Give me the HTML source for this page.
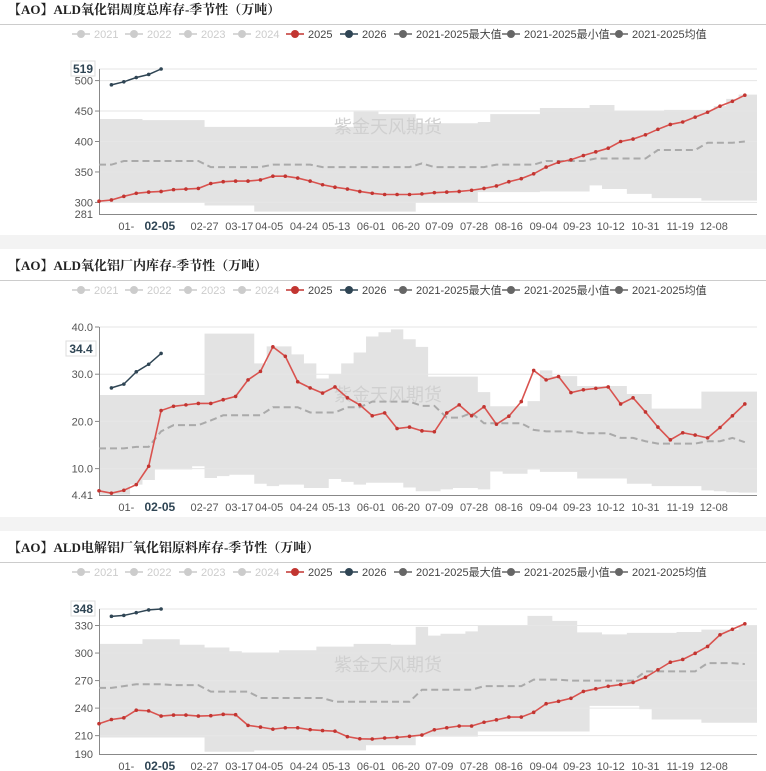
<!DOCTYPE html>
<html><head><meta charset="utf-8">
<style>
body{margin:0;background:#fff;width:766px;height:771px;overflow:hidden;font-family:"Liberation Sans","Noto Sans CJK SC",sans-serif;}
svg{display:block}
</style></head>
<body>
<svg id="chart" width="766" height="771" xmlns="http://www.w3.org/2000/svg"></svg>
<script>
const weekCount = 53;
const xLabels = ["01-","02-05","02-27","03-17","04-05","04-24","05-13","06-01","06-20","07-09","07-28","08-16","09-04","09-23","10-12","10-31","11-19","12-08"];
const xLabelWeeks = [2.2,4.9,8.5,11.3,13.7,16.5,19.1,21.9,24.7,27.4,30.2,33.0,35.8,38.5,41.2,44.0,46.8,49.5];

// Panel 1
const p1_2025 = [302,304,310,315,317,318,321,322,323,331,334,335,335,337,343,343,340,335,329,325,322,318,315,313,313,313,314,316,317,318,320,323,327,334,339,347,358,366,370,377,383,389,400,404,411,420,428,432,440,448,458,466,476];
const p1_2026 = [493,498,505,510,519];
const p1_max = [437,437,437,437,435,435,435,435,435,424,424,424,424,424,424,424,424,424,424,424,424,449,449,445,445,445,430,430,430,430,430,432,445,445,445,445,455,455,455,455,460,460,450,450,450,450,452,452,452,452,458,470,477];
const p1_min = [300,300,300,300,300,300,300,300,300,295,295,295,295,285,285,285,285,285,285,285,285,285,285,285,285,285,300,300,300,300,300,317,317,317,317,317,318,318,318,318,328,322,322,314,314,307,307,307,307,303,303,303,303];
const p1_avg = [362,362,368,368,368,368,368,368,368,358,358,358,358,358,362,362,362,362,358,358,358,358,358,358,358,358,364,358,358,358,358,358,362,362,362,362,368,368,368,368,372,372,372,372,372,386,386,386,386,398,398,398,400];
const p1_ticks = [300,350,400,450,500];

// Panel 2
const p2_2025 = [5.3,4.8,5.4,6.6,10.5,22.3,23.2,23.5,23.8,23.8,24.6,25.3,28.8,30.6,35.8,33.8,28.4,27.1,26.0,27.3,25.0,23.5,21.2,21.8,18.5,18.8,18.0,17.8,21.8,23.5,21.2,23.1,19.4,21.1,24.2,30.8,28.8,29.5,26.1,26.7,27.0,27.3,23.7,25.0,22.0,18.8,16.1,17.6,17.1,16.5,18.7,21.2,23.7];
const p2_2026 = [27.1,27.9,30.5,32.1,34.4];
const p2_max = [25.6,25.6,25.6,25.6,25.6,25.6,25.6,25.6,25.6,38.6,38.6,38.6,38.6,32.3,35.9,35.9,34.2,32.3,29.1,30,32.3,34.6,38,38.9,39.5,37.4,35.8,29.5,29.5,29.5,29.5,26.2,23.2,23.2,23.2,24.3,30.8,29.6,29.6,27.5,27.5,27.5,27.5,25.8,25.8,22.7,22.7,22.7,22.7,26.3,26.3,26.3,26.3];
const p2_min = [4.5,4.5,4.5,6.6,7.6,9.8,9.8,9.8,10.5,8.0,8.4,8.7,8.7,6.8,6.3,6.6,6.6,5.9,5.9,7.8,7.2,6.6,7.0,7.0,7.0,6.0,5.2,5.2,5.6,5.9,5.9,5.6,9.4,8.9,8.9,9.8,9.3,9.3,9.3,7.9,7.9,7.9,7.9,6.8,6.8,6.3,6.3,6.3,6.3,5.4,5.2,5.0,4.9];
const p2_avg = [14.3,14.3,14.3,14.6,14.6,17.9,19.2,19.2,19.2,20.2,21.3,21.3,21.3,21.3,23.0,23.0,23.0,21.9,21.9,21.9,23.0,23.0,24.2,24.2,24.2,24.2,23.3,23.3,20.8,20.8,21.8,19.6,19.6,19.6,19.6,18.2,17.9,17.9,17.9,17.5,17.5,17.5,16.5,16.5,15.8,15.3,15.3,15.3,15.3,15.8,15.8,16.5,15.6];
const p2_ticks = [10,20,30,40];

// Panel 3
const p3_2025 = [223,227.6,229.4,237.7,237,231.3,232.4,232.4,231.3,231.7,233.2,232.8,221.2,219.3,217.1,218.6,218.6,216.5,215.5,214.9,208.9,206.6,206.3,207.4,208.1,209.3,210.7,216.4,218.6,220.5,220.5,224.6,227.2,230.2,230.2,235.4,244.8,247.4,250.7,258.2,261,263.8,265.7,268,273.6,281.8,290,293,299.7,307.2,319.9,325.9,331.9];
const p3_2026 = [340,341,344,347,348];
const p3_max = [310,310,310,310,315,315,315,309,309,306,306,302,300.4,300.4,300.4,303,303,303,307,307,307,310,310,310,309,309,328.5,319,321,321,323.6,329.7,329.7,329.7,329.7,340.5,340.5,335,335,322.5,322.5,320.3,320.3,322,322,322,322,323,323,325.5,325.5,325.5,330];
const p3_min = [208,208,208,208,208,208,208,208,208,192.4,192.4,192.4,192.4,194,194,194,194,194,194,194,194,194,199.5,199.5,199.5,199.5,209,209,209,209,209,214.5,214.5,214.5,214.5,214.5,214.5,214.5,214.5,214.5,242.5,242.5,242.5,242.5,238.8,227.6,227.6,227.6,227.6,224,224,224,224];
const p3_avg = [262,262,264,266,266,266,265,265,265,258,258,258,258,251,251,251,251,251,251,247,247,247,247,247,247,247,260,260,260,260,260,264,264,264,264,271,271,271,270,270,270,270,270,270,280,280,280,280,280,289,289,289,288];
const p3_ticks = [210,240,270,300,330];

const NS = "http://www.w3.org/2000/svg";
const svg = document.getElementById('chart');
function mk(tag, attrs, parent, text){
  const e = document.createElementNS(NS, tag);
  for (const k in attrs) e.setAttribute(k, attrs[k]);
  if (text !== undefined) e.textContent = text;
  (parent || svg).appendChild(e);
  return e;
}
const X0 = 99, XW = 12.42, XR = 757;
function xs(i){ return X0 + i * XW; }

function drawPanel(cfg){
  const g = mk('g', {});
  
  
  const top = cfg.top;
  const t = mk('text', {x: 8, y: top + 14, 'font-size': 13, 'font-weight': 'bold', fill: '#222', 'font-family': '"Liberation Serif","Noto Serif CJK SC",serif'}, g, cfg.title);
  
  
  mk('line', {x1: 0, x2: 766, y1: top + 24.5, y2: top + 24.5, stroke: '#ccc'}, g);
  // legend
  const leg = [["2021","#ccc","#ccc"],["2022","#ccc","#ccc"],["2023","#ccc","#ccc"],["2024","#ccc","#ccc"],["2025","#c23531","#333"],["2026","#2f4554","#333"],["2021-2025最大值","#666","#333"],["2021-2025最小值","#666","#333"],["2021-2025均值","#666","#333"]];
  const lx = [72,125,179,233,286,340,394,502,610];
  const ly = top + 34;
  leg.forEach((l, i) => {
    const lg = mk('g', {}, g);
    
    
    mk('line', {x1: lx[i], x2: lx[i] + 18, y1: ly, y2: ly, stroke: l[1], 'stroke-width': 1.5}, lg);
    mk('circle', {cx: lx[i] + 9, cy: ly, r: 4, fill: l[1]}, lg);
    mk('text', {x: lx[i] + 22, y: ly + 4, 'font-size': 11, fill: l[2] === '#ccc' ? '#ccc' : '#444'}, lg, l[0]);
  });
  const y0 = cfg.yBot, y1 = cfg.yTop, vmin = cfg.vmin, vmax = cfg.vmax;
  const ys = v => y0 - (v - vmin) / (vmax - vmin) * (y0 - y1);
  // band
  let d = '';
  const n = cfg.max.length;
  for (let i = 0; i < n; i++){
    const a = Math.max(X0, xs(i) - XW/2), b = Math.min(XR, i === n-1 ? XR : xs(i) + XW/2);
    d += (i === 0 ? 'M' : 'L') + a + ',' + ys(cfg.max[i]) + 'L' + b + ',' + ys(cfg.max[i]);
  }
  for (let i = n - 1; i >= 0; i--){
    const a = Math.max(X0, xs(i) - XW/2), b = Math.min(XR, i === n-1 ? XR : xs(i) + XW/2);
    d += 'L' + b + ',' + ys(cfg.min[i]) + 'L' + a + ',' + ys(cfg.min[i]);
  }
  const band = mk('path', {d: d + 'Z', fill: '#e3e3e3'}, g);
  
  
  // grid & y ticks
  cfg.ticks.forEach(v => {
    mk('line', {x1: X0, x2: XR, y1: ys(v), y2: ys(v), stroke: '#e6e6e6'}, g);
    mk('line', {x1: X0 - 4, x2: X0, y1: ys(v), y2: ys(v), stroke: '#888'}, g);
    const tt = mk('text', {x: 93, y: ys(v) + 4, 'font-size': 11, fill: '#555', 'text-anchor': 'end'}, g, cfg.fmt(v));
    
    
  });
  mk('line', {x1: X0, x2: XR, y1: ys(vmax), y2: ys(vmax), stroke: '#e6e6e6'}, g);
  mk('text', {x: 93, y: y0 + 4, 'font-size': 11, fill: '#555', 'text-anchor': 'end'}, g, cfg.minLabel);
  // top label box
  mk('rect', {x: cfg.boxX, y: ys(vmax) - 8 + cfg.boxDy, width: cfg.boxW, height: 15, fill: '#fff', stroke: '#ddd'}, g);
  const tl = mk('text', {x: cfg.boxX + cfg.boxW/2, y: ys(vmax) + 4 + cfg.boxDy, 'font-size': 12, 'font-weight': 'bold', fill: '#2f4554', 'text-anchor': 'middle'}, g, cfg.maxLabel);
  
  
  mk('line', {x1: X0 + 0.5, x2: X0 + 0.5, y1: ys(vmax), y2: y0, stroke: '#888'}, g);
  mk('line', {x1: X0, x2: XR, y1: y0 + 0.5, y2: y0 + 0.5, stroke: '#888'}, g);
  // watermark
  mk('text', {x: 388, y: cfg.wmY, 'font-size': 18, fill: '#d0d0d0', 'text-anchor': 'middle'}, g, '紫金天风期货');
  // avg
  let pa = cfg.avg.map((v, i) => (i ? 'L' : 'M') + xs(i) + ',' + ys(v)).join('');
  const al = mk('path', {d: pa, fill: 'none', stroke: '#aaa', 'stroke-width': 2, 'stroke-dasharray': '7,4'}, g);
  
  
  // 2025
  let p5 = cfg.s25.map((v, i) => (i ? 'L' : 'M') + xs(i) + ',' + ys(v)).join('');
  const l5 = mk('path', {d: p5, fill: 'none', stroke: '#d9534f', 'stroke-width': 1.6}, g);
  
  
  cfg.s25.forEach((v, i) => {
    const c = mk('circle', {cx: xs(i), cy: ys(v), r: 1.8, fill: '#c23531'}, g);
    
    
  });
  let p6 = cfg.s26.map((v, i) => (i ? 'L' : 'M') + xs(i + 1) + ',' + ys(v)).join('');
  const l6 = mk('path', {d: p6, fill: 'none', stroke: '#2f4554', 'stroke-width': 1.5}, g);
  
  
  cfg.s26.forEach((v, i) => {
    const c = mk('circle', {cx: xs(i + 1), cy: ys(v), r: 1.8, fill: '#2f4554'}, g);
    
    
  });
  // x labels
  xLabels.forEach((l, i) => {
    const bold = l === '02-05';
    const xt = mk('text', {x: xs(xLabelWeeks[i]), y: y0 + 16, 'font-size': bold ? 12 : 11, 'font-weight': bold ? 'bold' : 'normal', fill: bold ? '#2f4554' : '#555', 'text-anchor': 'middle'}, g, l);
    
    
  });
}
// separators
mk('rect', {x: 0, y: 235, width: 766, height: 14, fill: '#f3f3f3'});
mk('rect', {x: 0, y: 517, width: 766, height: 14, fill: '#f3f3f3'});

drawPanel({name: 'total-inventory-chart', top: 0, title: '【AO】ALD氧化铝周度总库存-季节性（万吨）', yTop: 69, yBot: 214, vmin: 281, vmax: 519,
  ticks: p1_ticks, fmt: v => String(v), minLabel: '281', maxLabel: '519', boxX: 71, boxW: 24, boxDy: 0, wmY: 133,
  s25: p1_2025, s26: p1_2026, max: p1_max, min: p1_min, avg: p1_avg});
drawPanel({name: 'plant-inventory-chart', top: 256, title: '【AO】ALD氧化铝厂内库存-季节性（万吨）', yTop: 327, yBot: 495, vmin: 4.41, vmax: 40,
  ticks: p2_ticks, fmt: v => v.toFixed(1), minLabel: '4.41', maxLabel: '34.4', boxX: 66, boxW: 30, boxDy: 22, wmY: 401,
  s25: p2_2025, s26: p2_2026, max: p2_max, min: p2_min, avg: p2_avg});
drawPanel({name: 'smelter-raw-inventory-chart', top: 538, title: '【AO】ALD电解铝厂氧化铝原料库存-季节性（万吨）', yTop: 609, yBot: 754, vmin: 190, vmax: 348,
  ticks: p3_ticks, fmt: v => String(v), minLabel: '190', maxLabel: '348', boxX: 71, boxW: 24, boxDy: 0, wmY: 671,
  s25: p3_2025, s26: p3_2026, max: p3_max, min: p3_min, avg: p3_avg});
</script>
</body></html>
